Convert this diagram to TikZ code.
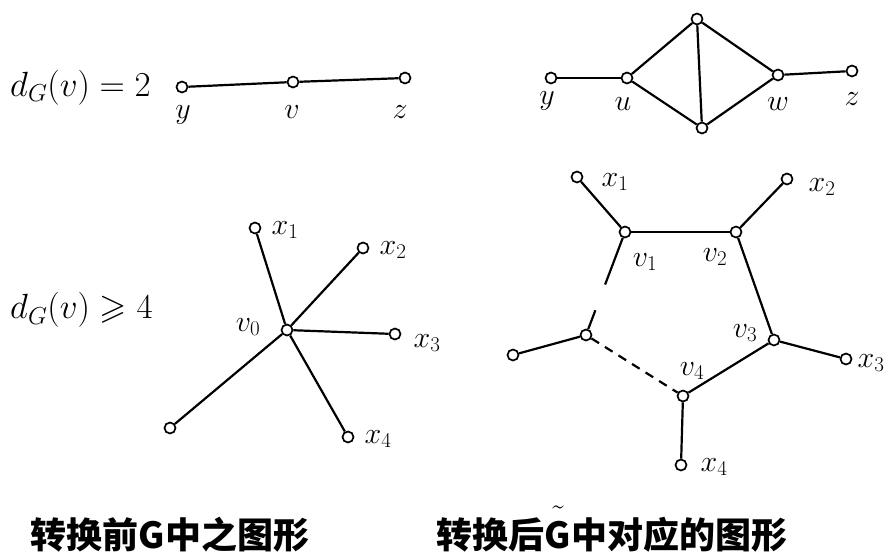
\RequirePackage{fix-cm}
\documentclass[tikz,border=0pt]{standalone}
\usepackage{amsmath,amssymb}
\usepackage{fontspec}
\newfontfamily\cjk{Noto Sans CJK SC}
\usetikzlibrary{calc}

\begin{document}
\begin{tikzpicture}[
  x=1pt, y=-1pt,
  vtx/.style={circle, draw, fill=white, inner sep=0pt, minimum size=11pt, line width=1.7pt},
  lab/.style={font=\fontsize{30}{32}\selectfont, inner sep=0pt},
  deg/.style={font=\fontsize{35}{37}\selectfont, anchor=west, inner sep=0pt},
  capt/.style={font=\cjk\bfseries\fontsize{36}{38}\selectfont, anchor=base, inner sep=0pt},
  edge/.style={line width=2.2pt},
  gap/.style={line width=2.2pt, dash pattern=on 9pt off 7pt},
]
\useasboundingbox (0,0) rectangle (890,551);

% ── d_G(v) = 2, before ──
\node[deg] (degA) at (10,88) {$d_G(v)=2$};
\node[vtx] (ay) at (182,87) {};
\node[vtx] (av) at (293,82) {};
\node[vtx] (az) at (405,78) {};
\node[lab] (ly) at (183,115) {$y$};
\node[lab] (lv) at (292,112) {$v$};
\node[lab] (lz) at (400,112) {$z$};
\draw[edge] (ay) -- (av) -- (az);

% ── d_G(v) = 2, after ──
\node[vtx] (by) at (551,78) {};
\node[vtx] (bu) at (627,78) {};
\node[vtx] (bt) at (697,19) {};
\node[vtx] (bb) at (702,128) {};
\node[vtx] (bw) at (778,75) {};
\node[vtx] (bz) at (852,71) {};
\node[lab] (my) at (547,101) {$y$};
\node[lab] (mu) at (623,104) {$u$};
\node[lab] (mw) at (778,104) {$w$};
\node[lab] (mz) at (852,99) {$z$};
\foreach \a/\b in {by/bu,bu/bt,bu/bb,bt/bb,bt/bw,bb/bw,bw/bz}
  \draw[edge] (\a) -- (\b);

% ── d_G(v) >= 4, before ──
\node[deg] (degB) at (10,310) {$d_G(v)\geqslant 4$};
\node[vtx] (c0) at (287,330) {};
\node[vtx] (c1) at (255,228) {};
\node[vtx] (c2) at (363,248) {};
\node[vtx] (c3) at (395,334) {};
\node[vtx] (c4) at (348,437) {};
\node[vtx] (c5) at (170,428) {};
\node[lab] (n0) at (248,327) {$v_0$};
\node[lab] (n1) at (285,230) {$x_1$};
\node[lab] (n2) at (393,250) {$x_2$};
\node[lab] (n3) at (427,343) {$x_3$};
\node[lab] (n4) at (378,439) {$x_4$};
\foreach \n in {c1,c2,c3,c4,c5}
  \draw[edge] (c0) -- (\n);

% ── d_G(v) >= 4, after ──
\node[vtx] (d1) at (625,232) {};
\node[vtx] (d2) at (736,232) {};
\node[vtx] (d3) at (774,340) {};
\node[vtx] (d4) at (683,396) {};
\node[vtx] (d5) at (586,335) {};
\node[vtx] (e1) at (577,177) {};
\node[vtx] (e2) at (787,179) {};
\node[vtx] (e3) at (846,359) {};
\node[vtx] (e4) at (681,465) {};
\node[vtx] (e5) at (513,355) {};
\node[lab] (o1) at (645,262) {$v_1$};
\node[lab] (o2) at (715,257) {$v_2$};
\node[lab] (o3) at (745,333) {$v_3$};
\node[lab] (o4) at (692,371) {$v_4$};
\node[lab] (p1) at (615,182) {$x_1$};
\node[lab] (p2) at (822,187) {$x_2$};
\node[lab] (p3) at (871,363) {$x_3$};
\node[lab] (p4) at (714,467) {$x_4$};
\foreach \a/\b in {d1/d2,d2/d3,d3/d4,d1/e1,d2/e2,d3/e3,d4/e4,d5/e5}
  \draw[edge] (\a) -- (\b);
\draw[edge] (d1) -- ($(d1)!0.51!(d5)$);
\draw[edge] ($(d1)!0.76!(d5)$) -- (d5);
\draw[gap] (d5) -- (d4);

% ── captions ──
\node[capt] (capA) at (170,548) {转换前G中之图形};
\node[capt] (capB) at (612,548) {转换后\ensuremath{\tilde{\mbox{\raisebox{0pt}[1.25\height]{G}}}}中对应的图形};

\end{tikzpicture}
\end{document}
